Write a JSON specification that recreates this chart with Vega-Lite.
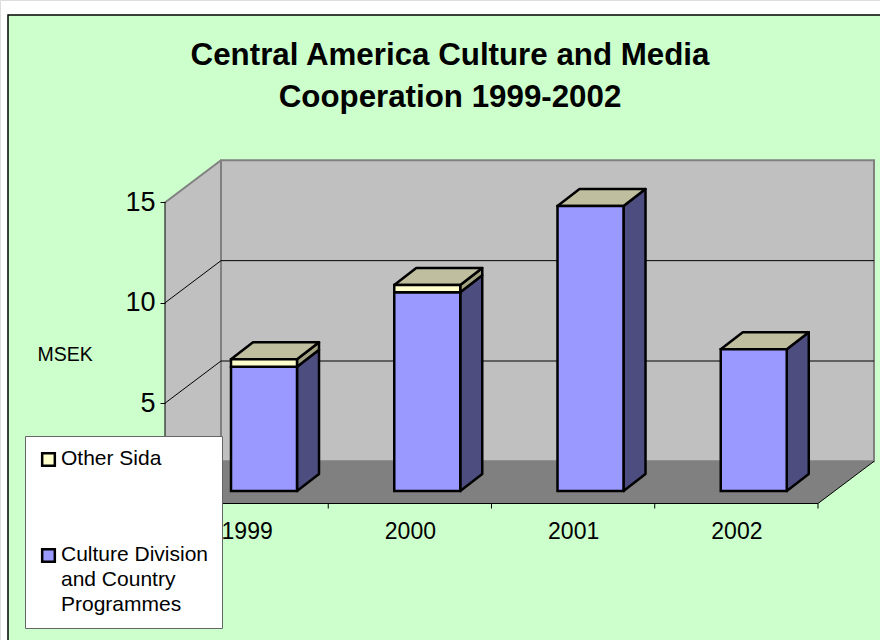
{
"$schema":"https://vega.github.io/schema/vega-lite/v6.json",
"width":880,"height":640,"padding":0,"autosize":"none","background":"white",
"title":{"text":["Central America Culture and Media","Cooperation 1999-2002"],"anchor":"middle","font":"Liberation Sans","fontWeight":"bold","fontSize":31.3,"lineHeight":42,"color":"black","baseline":"top","offset":0,"dy":113,"dx":10},
"datasets":{
"bars":[
{"year":1999,"series":"Culture Division and Country Programmes","low":0,"high":6.19},
{"year":1999,"series":"Other Sida","low":6.19,"high":6.56},
{"year":2000,"series":"Culture Division and Country Programmes","low":0,"high":9.9},
{"year":2000,"series":"Other Sida","low":9.9,"high":10.26},
{"year":2001,"series":"Culture Division and Country Programmes","low":0,"high":14.2},
{"year":2002,"series":"Culture Division and Country Programmes","low":0,"high":7.06}],
"one":[{"id":1}],
"depths":[{"depth":0},{"depth":1}],
"ticks":[{"tick":5},{"tick":10}],
"floor":[{"u":0,"depth":0},{"u":0,"depth":1},{"u":4,"depth":0},{"u":4,"depth":1}]
},
"encoding":{
"x":{"field":"x","type":"quantitative","scale":{"domain":[-1.01072,4.3798],"nice":false,"zero":false},
"axis":{"values":[0.5,1.5,2.5,3.5],"labelExpr":"toString(datum.value+1998.5)","ticks":false,"domain":false,"grid":false,"offset":-136,"labelPadding":16,"labelFontSize":23,"labelFont":"Liberation Sans","labelColor":"black","title":null,"zindex":1,"labelFlush":false,"labelOverlap":false}},
"y":{"field":"y","type":"quantitative","scale":{"domain":[-6.801,25.087],"nice":false,"zero":false},
"axis":{"values":[5,10,15],"offset":-165,"domain":false,"grid":false,"tickSize":5,"tickColor":"black","tickWidth":1,"labelPadding":5,"labelFontSize":27,"labelFont":"Liberation Sans","labelColor":"black","zindex":1,"title":"MSEK","titleAngle":0,"titleFont":"Liberation Sans","titleFontSize":19.5,"titleFontWeight":"normal","titleColor":"black","titleAlign":"left","titleBaseline":"alphabetic","titleX":-128,"titleY":360}}
},
"layer":[
{"data":{"name":"one"},"transform":[{"calculate":"-0.9617","as":"x"},{"calculate":"4.6","as":"x2"},{"calculate":"24.34","as":"y"},{"calculate":"-7.2","as":"y2"}],
 "mark":{"type":"rect","fill":"#CCFFCC","stroke":"black","strokeWidth":1.5},
 "encoding":{"x2":{"field":"x2"},"y2":{"field":"y2"}}},
{"data":{"name":"one"},"transform":[{"calculate":"0.343","as":"x"},{"calculate":"4.343","as":"x2"},{"calculate":"2.1","as":"y"},{"calculate":"17.1","as":"y2"}],
 "mark":{"type":"rect","fill":"#C0C0C0","stroke":"#808080","strokeWidth":2},
 "encoding":{"x2":{"field":"x2"},"y2":{"field":"y2"}}},
{"data":{"name":"depths"},"transform":[{"calculate":"datum.depth*0.343","as":"x"},{"calculate":"datum.depth*2.1","as":"y"},{"calculate":"15+datum.depth*2.1","as":"y2"}],
 "mark":{"type":"area","fill":"#C0C0C0"},"encoding":{"y2":{"field":"y2"}}},
{"data":{"name":"depths"},"transform":[{"calculate":"datum.depth*0.343","as":"x"},{"calculate":"15+datum.depth*2.1","as":"y"}],
 "mark":{"type":"line","stroke":"#808080","strokeWidth":2}},
{"data":{"name":"one"},"transform":[{"calculate":"[0,1]","as":"k"},{"flatten":["k"]},{"calculate":"0.343","as":"x"},{"calculate":"2.1+datum.k*15","as":"y"}],
 "mark":{"type":"line","stroke":"#808080","strokeWidth":2}},
{"data":{"name":"floor"},"transform":[{"calculate":"datum.u+datum.depth*0.343","as":"x"},{"calculate":"(datum.u==4&&datum.depth==1)?2.1:0","as":"y"},{"calculate":"(datum.u==0&&datum.depth==0)?0:2.1","as":"y2"}],
 "mark":{"type":"area","fill":"#808080"},"encoding":{"y2":{"field":"y2"}}},
{"data":{"name":"floor"},"transform":[{"filter":"!(datum.u==0&&datum.depth==1)"},{"calculate":"datum.u+datum.depth*0.343","as":"x"},{"calculate":"datum.depth*2.1","as":"y"}],
 "mark":{"type":"line","stroke":"black","strokeWidth":1},"encoding":{"order":{"field":"x"}}},
{"data":{"name":"ticks"},"transform":[{"calculate":"0.343","as":"x"},{"calculate":"4.343","as":"x2"},{"calculate":"datum.tick+2.1","as":"y"}],
 "mark":{"type":"rule","stroke":"black","strokeWidth":1},"encoding":{"x2":{"field":"x2"}}},
{"data":{"name":"ticks"},"transform":[{"calculate":"[0,1]","as":"k"},{"flatten":["k"]},{"calculate":"datum.k*0.343","as":"x"},{"calculate":"datum.tick+datum.k*2.1","as":"y"}],
 "mark":{"type":"line","stroke":"black","strokeWidth":1},"encoding":{"detail":{"field":"tick"},"order":{"field":"k"}}},
{"data":{"name":"one"},"transform":[{"calculate":"0","as":"x"},{"calculate":"0","as":"y"},{"calculate":"15","as":"y2"}],
 "mark":{"type":"rule","stroke":"black","strokeWidth":1},
 "encoding":{"y2":{"field":"y2"}}},
{"data":{"name":"bars"},"transform":[{"filter":"datum.low==0"},{"calculate":"datum.year-1998","as":"x"},{"calculate":"0","as":"y"},{"calculate":"-0.25","as":"y2"}],
 "mark":{"type":"rule","stroke":"black","strokeWidth":1},"encoding":{"y2":{"field":"y2"}}},
{"data":{"name":"bars"},"transform":[{"calculate":"[0,1]","as":"k"},{"flatten":["k"]},{"calculate":"datum.year-1999+0.8086+datum.k*0.1348","as":"x"},{"calculate":"datum.low+0.623+datum.k*0.847","as":"y"},{"calculate":"datum.high+0.623+datum.k*0.847","as":"y2"},{"calculate":"datum.year+datum.series","as":"key"}],
 "mark":{"type":"area","stroke":"black","strokeWidth":2.5,"strokeJoin":"round"},
 "encoding":{"y2":{"field":"y2"},"detail":{"field":"key"},"fill":{"condition":{"test":"datum.series==='Other Sida'","value":"#A3A382"},"value":"#4D4D80"}}},
{"data":{"name":"bars"},"transform":[{"joinaggregate":[{"op":"max","field":"high","as":"top"}],"groupby":["year"]},{"filter":"datum.high==datum.top"},{"calculate":"[0,1,2,3]","as":"k"},{"flatten":["k"]},{"calculate":"datum.year-1999+0.4043+[0,0.1348,0.4043,0.5391][datum.k]","as":"x"},{"calculate":"datum.top+0.623+(datum.k==3?0.847:0)","as":"y"},{"calculate":"datum.top+0.623+(datum.k==0?0:0.847)","as":"y2"}],
 "mark":{"type":"area","fill":"#BFBF9F","stroke":"black","strokeWidth":2.5,"strokeJoin":"round"},
 "encoding":{"y2":{"field":"y2"},"detail":{"field":"year"}}},
{"data":{"name":"bars"},"transform":[{"calculate":"datum.year-1999+0.4043","as":"x"},{"calculate":"datum.year-1999+0.8086","as":"x2"},{"calculate":"datum.low+0.623","as":"y"},{"calculate":"datum.high+0.623","as":"y2"}],
 "mark":{"type":"rect","stroke":"black","strokeWidth":2.5},
 "encoding":{"x2":{"field":"x2"},"y2":{"field":"y2"},
 "color":{"field":"series","type":"nominal","scale":{"domain":["Other Sida","Culture Division and Country Programmes"],"range":["#FFFFCC","#9999FF"]},
 "legend":{"title":null,"orient":"none","legendX":25,"legendY":436,"padding":13,"fillColor":"white","strokeColor":"#666666","symbolType":"square","symbolSize":160,"symbolStrokeColor":"black","symbolStrokeWidth":2.5,"labelFont":"Liberation Sans","labelFontSize":21,"labelColor":"black","labelLimit":300,"labelBaseline":"top","labelExpr":"datum.label=='Other Sida'?datum.label:['Culture Division','and Country','Programmes']","labelOffset":2,"rowPadding":72,"encoding":{"labels":{"dy":{"value":-12},"lineHeight":{"value":25}}}}}}}
]
}
